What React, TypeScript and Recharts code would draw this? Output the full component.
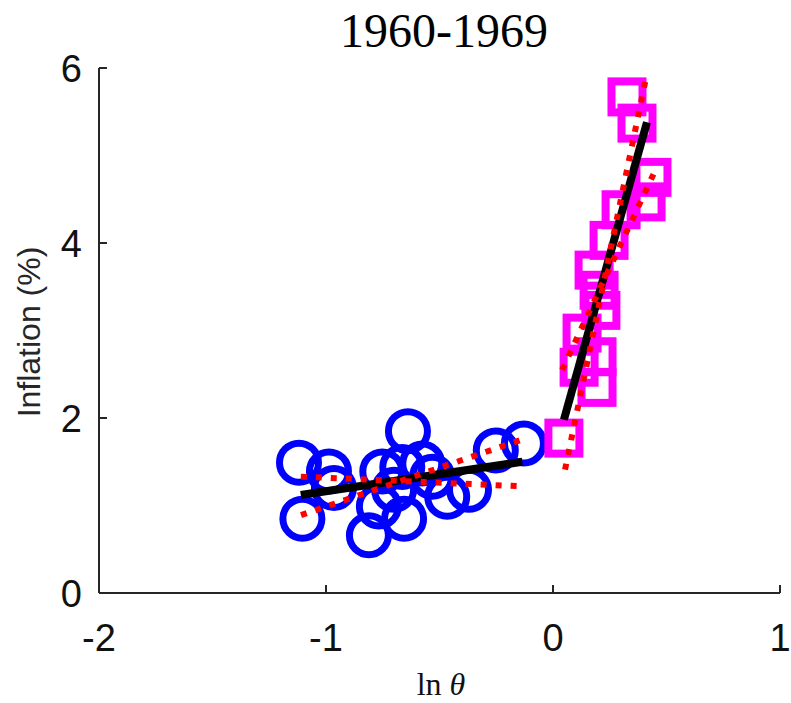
import { ScatterChart, Scatter, XAxis, YAxis } from 'recharts';

// low regime (blue circles)
const lowX = [-1.119, -0.987, -1.104, -0.811, -0.639, -0.752, -0.656, -0.767, -0.252, -0.128, -0.466, -0.37, -0.664, -0.576, -0.532, -0.7, -0.965];
const lowY = [1.49, 1.39, 0.85, 0.66, 1.85, 1.39, 0.85, 0.99, 1.63, 1.71, 1.1, 1.18, 1.44, 1.48, 1.33, 1.18, 1.2];

// high regime (magenta squares)
const highX = [0.326, 0.37, 0.436, 0.41, 0.3, 0.247, 0.181, 0.203, 0.211, 0.128, 0.194, 0.115, 0.194, 0.048];
const highY = [5.67, 5.37, 4.75, 4.47, 4.38, 4.03, 3.69, 3.46, 3.23, 2.97, 2.7, 2.58, 2.35, 1.77];

// fitted lines and bands: [x0, y0, x1, y1]
const lowFit = [-1.111, 1.12, -0.135, 1.5];
const lowBandA = [-1.11, 0.89, -0.141, 1.75];
const lowBandB = [-1.111, 1.33, -0.142, 1.22];
const highFit = [0.048, 1.98, 0.414, 5.38];
const highBandA = [0.053, 1.41, 0.414, 5.94];
const highBandB = [0.04, 2.55, 0.445, 4.8];

const xTicks = [-2, -1, 0, 1];
const yTicks = [0, 2, 4, 6];

const AXIS = '#262626';
const SANS = '"Liberation Sans", Arial, Helvetica, sans-serif';
const SERIF = '"Liberation Serif", "Times New Roman", serif';

const toPoints = (xs: number[], ys: number[]) => xs.map((x, i) => ({ x, y: ys[i] }));
const seg = (s: number[]) => [{ x: s[0], y: s[1] }, { x: s[2], y: s[3] }];

const Circle = (p: any) => (
  <circle cx={p.cx} cy={p.cy} r={19.5} fill="none" stroke="#0000ff" strokeWidth={7} />
);
const Square = (p: any) => (
  <rect x={p.cx - 15.5} y={p.cy - 15.5} width={31} height={31} fill="none" stroke="#ff00ff" strokeWidth={8} />
);
const NoDot = () => <g />;

const XTick = (p: any) => (
  <g>
    <line x1={p.x} y1={p.y} x2={p.x} y2={p.y - 8} stroke={AXIS} strokeWidth={2} />
    <text x={p.x} y={p.y + 58} textAnchor="middle" fontFamily={SANS} fontSize={38} fill="#111">
      {p.payload.value}
    </text>
  </g>
);

const YTick = (p: any) => (
  <g>
    <line x1={p.x} y1={p.y} x2={p.x + 8} y2={p.y} stroke={AXIS} strokeWidth={2} />
    <text x={p.x - 17} y={p.y + 14} textAnchor="end" fontFamily={SANS} fontSize={38} fill="#111">
      {p.payload.value}
    </text>
  </g>
);

const fitLine = { stroke: '#000', strokeWidth: 8 };
const bandLine = { stroke: '#ff0000', strokeWidth: 6, strokeDasharray: '6 9' };

export default function App() {
  return (
    <div style={{ position: 'absolute', left: 0, top: 0, width: 791, height: 703, background: '#fff' }}>
      <ScatterChart width={791} height={703} margin={{ top: 68, right: 11, left: 0, bottom: 0 }}>
        <XAxis
          type="number"
          dataKey="x"
          domain={[-2, 1]}
          ticks={xTicks}
          height={110}
          tickSize={0}
          tickMargin={0}
          tick={XTick}
          axisLine={{ stroke: AXIS, strokeWidth: 2 }}
          allowDataOverflow
        />
        <YAxis
          type="number"
          dataKey="y"
          domain={[0, 6]}
          ticks={yTicks}
          width={99}
          tickSize={0}
          tickMargin={0}
          tick={YTick}
          axisLine={{ stroke: AXIS, strokeWidth: 2 }}
          allowDataOverflow
        />
        <Scatter data={toPoints(lowX, lowY)} shape={Circle} isAnimationActive={false} />
        <Scatter data={toPoints(highX, highY)} shape={Square} isAnimationActive={false} />
        <Scatter data={seg(lowFit)} shape={NoDot} line={fitLine} fill="#000" isAnimationActive={false} />
        <Scatter data={seg(highFit)} shape={NoDot} line={fitLine} fill="#000" isAnimationActive={false} />
        <Scatter data={seg(lowBandA)} shape={NoDot} line={bandLine} fill="#ff0000" isAnimationActive={false} />
        <Scatter data={seg(lowBandB)} shape={NoDot} line={bandLine} fill="#ff0000" isAnimationActive={false} />
        <Scatter data={seg(highBandA)} shape={NoDot} line={bandLine} fill="#ff0000" isAnimationActive={false} />
        <Scatter data={seg(highBandB)} shape={NoDot} line={bandLine} fill="#ff0000" isAnimationActive={false} />
      </ScatterChart>
      <svg width={791} height={703} style={{ position: 'absolute', left: 0, top: 0, pointerEvents: 'none' }}>
        <text x={444} y={47} textAnchor="middle" fontFamily={SERIF} fontSize={48} fill="#000">
          1960-1969
        </text>
        <text x={40} y={332} textAnchor="middle" fontFamily={SANS} fontSize={32} fill={AXIS} transform="rotate(-90 40 332)">
          Inflation (%)
        </text>
        <text x={441} y={695} textAnchor="middle" fontFamily={SERIF} fontSize={32} fill="#111">
          ln <tspan fontStyle="italic">θ</tspan>
        </text>
      </svg>
    </div>
  );
}
